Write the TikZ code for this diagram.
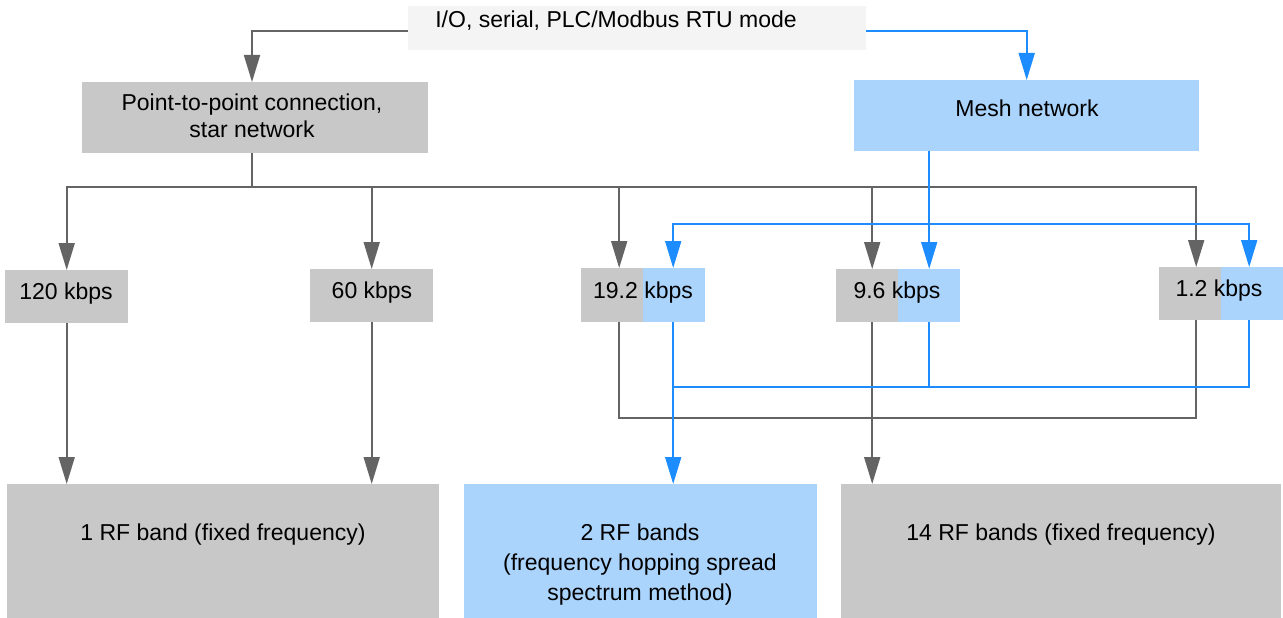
\documentclass[tikz,border=0pt]{standalone}
\usepackage{fontspec}
\setmainfont{Liberation Sans}
\usetikzlibrary{arrows.meta}
\definecolor{gfill}{HTML}{C8C8C8}
\definecolor{bfill}{HTML}{ABD4FD}
\definecolor{tfill}{HTML}{F4F4F4}
\definecolor{gline}{HTML}{646464}
\definecolor{bline}{HTML}{1C8CFF}
\tikzset{
  box/.style={draw=none, inner sep=0pt, anchor=north west},
  gbox/.style={box, fill=gfill},
  bbox/.style={box, fill=bfill},
  tbox/.style={box, fill=tfill},
  txt/.style={inner sep=0pt, align=center, font=\fontsize{23}{27}\selectfont},
  gl/.style={draw=gline, line width=1.8pt},
  bl/.style={draw=bline, line width=1.8pt},
  ga/.style={gl, -{Triangle[length=27pt,width=16pt]}},
  ba/.style={bl, -{Triangle[length=27pt,width=16pt]}},
}
\begin{document}
\begin{tikzpicture}[x=1pt,y=-1pt]
\useasboundingbox (0,0) rectangle (1283,618);
% boxes
\node[tbox, minimum width=458pt, minimum height=44pt] (top) at (408,6) {};
\node[gbox, minimum width=346pt, minimum height=71pt] (p2p) at (82,82) {};
\node[bbox, minimum width=345pt, minimum height=71pt] (mesh) at (854,80) {};
\node[gbox, minimum width=123pt, minimum height=53pt] (s120) at (5,270) {};
\node[gbox, minimum width=123pt, minimum height=53pt] (s60) at (310,269) {};
\node[gbox, minimum width=62pt, minimum height=54pt] (s19g) at (581,268) {};
\node[bbox, minimum width=62pt, minimum height=54pt] (s19b) at (643,268) {};
\node[gbox, minimum width=62pt, minimum height=53pt] (s96g) at (836,269) {};
\node[bbox, minimum width=62pt, minimum height=53pt] (s96b) at (898,269) {};
\node[gbox, minimum width=62pt, minimum height=53pt] (s12g) at (1159,267) {};
\node[bbox, minimum width=62pt, minimum height=53pt] (s12b) at (1221,267) {};
\node[gbox, minimum width=432pt, minimum height=134pt] (rf1) at (7,484) {};
\node[bbox, minimum width=353pt, minimum height=134pt] (rf2) at (464,484) {};
\node[gbox, minimum width=440pt, minimum height=134pt] (rf14) at (841,484) {};
% texts
\node[txt] (ttop) at (616,21) {I/O, serial, PLC/Modbus RTU mode};
\node[txt] (tp2p) at (252,116) {Point-to-point connection,\\star network};
\node[txt] (tmesh) at (1027,108) {Mesh network};
\node[txt] (t120) at (66,294) {120 kbps};
\node[txt] (t60) at (372,293) {60 kbps};
\node[txt] (t19) at (643,293) {19.2 kbps};
\node[txt] (t96) at (897,293) {9.6 kbps};
\node[txt] (t12) at (1219,291) {1.2 kbps};
\node[txt] (trf1) at (223,535) {1 RF band (fixed frequency)};
\node[txt, font=\fontsize{23}{30}\selectfont] (trf2) at (640,565) {2 RF bands\\(frequency hopping spread\\spectrum method)};
\node[txt] (trf14) at (1061,535) {14 RF bands (fixed frequency)};
% connection points
\coordinate (jg) at (252,187);
\coordinate (jb) at (929,224);
\coordinate (lg) at (872,418);
\coordinate (lb) at (673,387);
\coordinate (p19g) at ([xshift=7pt]s19g.north);
\coordinate (p96g) at ([xshift=5pt]s96g.north);
\coordinate (p12g) at ([xshift=6pt]s12g.north);
\coordinate (p19b) at ([xshift=-1pt]s19b.north);
\coordinate (p12b) at ([xshift=-3pt]s12b.north);
\coordinate (q19g) at (p19g |- s19g.south);
\coordinate (q96g) at (p96g |- s96g.south);
\coordinate (q12g) at (p12g |- s12g.south);
\coordinate (q19b) at (p19b |- s19b.south);
\coordinate (q12b) at (p12b |- s12b.south);
% top connectors
\draw[ga] ([yshift=-3pt]top.west) -| (jg |- p2p.north);
\draw[ba] ([yshift=-3pt]top.east) -| (mesh.north);
% p2p fan-out
\draw[gl] (jg |- p2p.south) -- (jg);
\draw[ga] (jg) -| (s120.north);
\draw[ga] (jg) -| (s60.north);
\draw[ga] (jg) -| (p19g);
\draw[ga] (jg) -| (p96g);
\draw[ga] (jg) -| (p12g);
% bottom gray
\draw[ga] (s120.south) -- (rf1.north -| s120.south);
\draw[ga] (s60.south) -- (rf1.north -| s60.south);
\draw[gl] (q19g) |- (lg);
\draw[gl] (q12g) |- (lg);
\draw[ga] (q96g) -- (rf14.north -| q96g);
% mesh fan-out
\draw[ba] (mesh.south -| s96b.north) -- (s96b.north);
\draw[ba] (jb) -| (p19b);
\draw[ba] (jb) -| (p12b);
% bottom blue
\draw[ba] (q19b) -- (rf2.north -| q19b);
\draw[bl] (s96b.south) |- (lb);
\draw[bl] (q12b) |- (lb);
\end{tikzpicture}
\end{document}
